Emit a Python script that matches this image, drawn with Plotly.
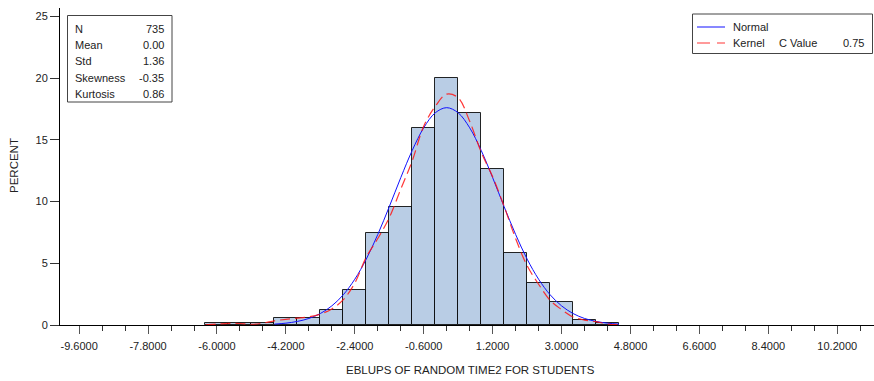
import plotly.graph_objects as go

# ---- data ----
bin_centers = [-6.0, -5.4, -4.8, -4.2, -3.6, -3.0, -2.4, -1.8, -1.2, -0.6, 0.0,
               0.6, 1.2, 1.8, 2.4, 3.0, 3.6, 4.2]
bin_percent = [0.14, 0.14, 0.14, 0.54, 0.54, 1.22, 2.86, 7.48, 9.52, 15.92, 20.00,
               17.14, 12.65, 5.85, 3.40, 1.90, 0.41, 0.14]
bin_width = 0.6

normal_x = [-4.5, -4.2, -3.9, -3.6, -3.3, -3.0, -2.7, -2.4, -2.1, -1.8, -1.5, -1.2,
            -0.9, -0.6, -0.3, 0.0, 0.3, 0.6, 0.9, 1.2, 1.5, 1.8, 2.1, 2.4, 2.7,
            3.0, 3.3, 3.6, 3.9, 4.2, 4.5]
normal_y = [0.07, 0.15, 0.29, 0.53, 0.93, 1.55, 2.45, 3.71, 5.34, 7.33, 9.58, 11.93,
            14.14, 15.97, 17.18, 17.60, 17.18, 15.97, 14.14, 11.93, 9.58, 7.33,
            5.34, 3.71, 2.45, 1.55, 0.93, 0.53, 0.29, 0.15, 0.07]

kernel_x = [-6.3, -6.0, -5.7, -5.4, -5.1, -4.8, -4.5, -4.2, -3.9, -3.6, -3.3, -3.0,
            -2.7, -2.4, -2.1, -1.8, -1.5, -1.2, -0.9, -0.6, -0.3, 0.0, 0.3, 0.6,
            0.9, 1.2, 1.5, 1.8, 2.1, 2.4, 2.7, 3.0, 3.3, 3.6, 3.9, 4.2, 4.5]
kernel_y = [0.01, 0.08, 0.13, 0.12, 0.06, 0.15, 0.34, 0.46, 0.55, 0.66, 0.88, 1.30,
            2.05, 3.40, 5.50, 7.00, 8.70, 11.00, 13.30, 16.10, 17.70, 18.70, 18.40,
            16.50, 14.00, 12.00, 9.60, 7.00, 4.80, 3.30, 2.00, 1.25, 0.65, 0.40,
            0.27, 0.08, 0.02]

x_tick_vals = [-9.6, -7.8, -6.0, -4.2, -2.4, -0.6, 1.2, 3.0, 4.8, 6.6, 8.4, 10.2]
x_tick_text = ["-9.6000", "-7.8000", "-6.0000", "-4.2000", "-2.4000", "-0.6000",
               "1.2000", "3.0000", "4.8000", "6.6000", "8.4000", "10.2000"]
y_tick_vals = [0, 5, 10, 15, 20, 25]

stat_names = ["N", "Mean", "Std", "Skewness", "Kurtosis"]
stat_values = ["735", "0.00", "1.36", "-0.35", "0.86"]

x_title = "EBLUPS OF RANDOM TIME2 FOR STUDENTS"
y_title = "PERCENT"

# ---- layout geometry (pixels) ----
W, H = 874, 381
L, R, T, B = 60, 0, 8, 56
PW, PH = W - L - R, H - T - B
FONT = "Liberation Sans, Arial, sans-serif"
TXT = "#222222"


def px(x):
    return (x - L) / PW


def py(y):
    return (H - B - y) / PH


fig = go.Figure()
fig.add_trace(go.Bar(
    x=bin_centers, y=bin_percent, width=[bin_width] * len(bin_centers),
    marker=dict(color="#B9CDE5", line=dict(color="rgba(0,0,0,0.85)", width=1)),
    hoverinfo="x+y", showlegend=False))
fig.add_trace(go.Scatter(
    x=normal_x, y=normal_y, mode="lines",
    line=dict(color="#1010FF", width=1, shape="spline"), showlegend=False))
fig.add_trace(go.Scatter(
    x=kernel_x, y=kernel_y, mode="lines",
    line=dict(color="rgba(255,20,20,0.85)", width=1.2, shape="spline",
              dash="10px,5px"), showlegend=False))

shapes = []
annotations = []

# stats box
shapes.append(dict(type="rect", xref="paper", yref="paper",
                   x0=px(67.5), x1=px(172), y0=py(102), y1=py(15.5),
                   line=dict(color="#444444", width=1), fillcolor="white",
                   layer="above"))
row_y = [28.5, 45, 61.5, 78, 94]
for name, val, yy in zip(stat_names, stat_values, row_y):
    annotations.append(dict(xref="paper", yref="paper", x=px(72.5), y=py(yy),
                            text=name, showarrow=False, xanchor="left",
                            yanchor="middle", font=dict(family=FONT, size=11, color=TXT)))
    annotations.append(dict(xref="paper", yref="paper", x=px(166), y=py(yy),
                            text=val, showarrow=False, xanchor="right",
                            yanchor="middle", font=dict(family=FONT, size=11, color=TXT)))

# legend box
shapes.append(dict(type="rect", xref="paper", yref="paper",
                   x0=px(692.5), x1=px(872.5), y0=py(53.5), y1=py(14),
                   line=dict(color="#444444", width=1), fillcolor="white",
                   layer="above"))
shapes.append(dict(type="line", xref="paper", yref="paper",
                   x0=px(697), x1=px(725), y0=py(27), y1=py(27),
                   line=dict(color="#1010FF", width=1), layer="above"))
shapes.append(dict(type="line", xref="paper", yref="paper",
                   x0=px(697), x1=px(725), y0=py(43), y1=py(43),
                   line=dict(color="rgba(255,20,20,0.85)", width=1.2, dash="13px,7px"),
                   layer="above"))
leg_items = [("Normal", 730.5, 27, "left"), ("Kernel", 730.5, 43, "left"),
             ("C Value", 776.5, 43, "left"), ("0.75", 865.5, 43, "right")]
for text, xx, yy, anc in leg_items:
    annotations.append(dict(xref="paper", yref="paper", x=px(xx), y=py(yy),
                            text=text, showarrow=False, xanchor=anc,
                            yanchor="middle", font=dict(family=FONT, size=11, color=TXT)))

# axis titles
annotations.append(dict(xref="paper", yref="paper", x=px(470), y=py(370),
                        text=x_title, showarrow=False, xanchor="center",
                        yanchor="middle", font=dict(family=FONT, size=11.5, color=TXT)))
annotations.append(dict(xref="paper", yref="paper", x=px(14), y=py(166),
                        text=y_title, showarrow=False, xanchor="center",
                        yanchor="middle", textangle=-90,
                        font=dict(family=FONT, size=11.5, color=TXT)))

fig.update_layout(
    width=W, height=H,
    margin=dict(l=L, r=R, t=T, b=B, pad=0),
    paper_bgcolor="white", plot_bgcolor="white",
    bargap=0, showlegend=False,
    shapes=shapes, annotations=annotations,
    font=dict(family=FONT, size=11, color=TXT),
    xaxis=dict(range=[-10.1, 11.16], tickmode="array", tickvals=x_tick_vals,
               ticktext=x_tick_text, ticks="outside", ticklen=8, tickwidth=1,
               tickcolor="#555555", showgrid=False, zeroline=False,
               showline=True, linecolor="black", linewidth=1,
               ticklabelstandoff=3,
               tickfont=dict(family=FONT, size=11, color=TXT),
               minor=dict(tickmode="linear", tick0=-9.6, dtick=0.6, ticks="outside",
                          ticklen=5, tickcolor="#333333", showgrid=False)),
    yaxis=dict(range=[0, 25.67], tickmode="array", tickvals=y_tick_vals,
               ticks="outside", ticklen=9, tickwidth=1, tickcolor="#333333",
               showgrid=False, zeroline=False, showline=True,
               linecolor="black", linewidth=1,
               tickfont=dict(family=FONT, size=11, color=TXT)),
)

fig.write_html("out.html")
